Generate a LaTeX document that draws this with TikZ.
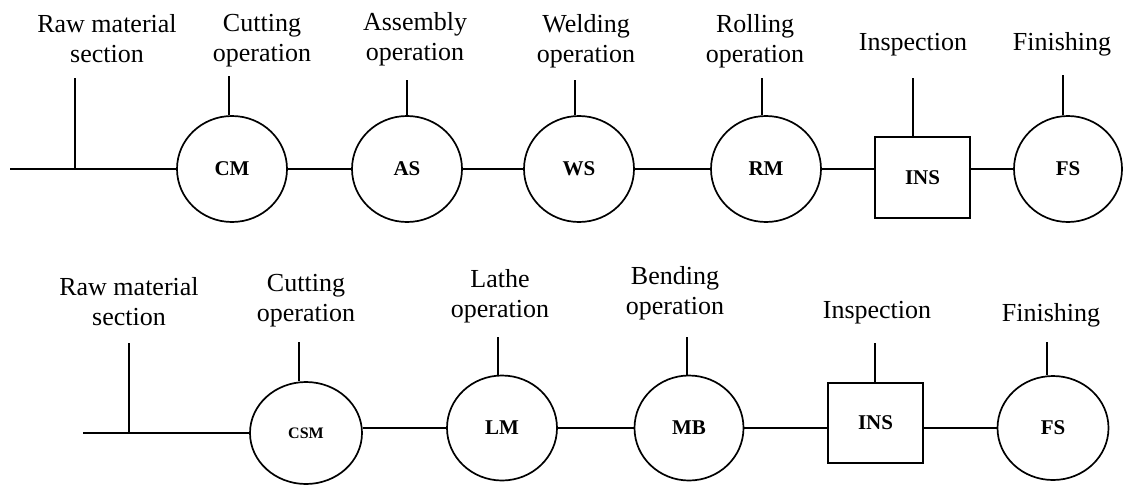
\documentclass[tikz,border=0pt]{standalone}
\usepackage{fontspec}
\setmainfont{Liberation Serif}
\usetikzlibrary{shapes.geometric}
\begin{document}
\begin{tikzpicture}[x=1pt,y=-1pt,
  station/.style={draw, ellipse, line width=1.7pt, inner sep=0pt,
    minimum width=110pt, minimum height=106pt,
    font=\bfseries\fontsize{21}{24}\selectfont},
  checkbox/.style={draw, rectangle, line width=1.7pt, inner sep=0pt,
    minimum width=95pt, minimum height=81pt,
    font=\bfseries\fontsize{21}{24}\selectfont},
  caption/.style={anchor=north, align=center, inner sep=0pt,
    font=\fontsize{26}{30}\selectfont},
  link/.style={line width=1.7pt}]

\useasboundingbox (0,0) rectangle (1123,485);

% ---------- first production line ----------
\node[station] (CM) at (232,169) {CM};
\node[station] (AS) at (407,169) {AS};
\node[station] (WS) at (579,169) {WS};
\node[station] (RM) at (766,169) {RM};
\node[checkbox] (INS) at (922.5,177.5) {INS};
\node[station, minimum width=108pt] (FS) at (1068,169) {FS};

\node[caption] (cRaw)  at (107,14)  {Raw material\\section};
\node[caption] (cCut)  at (262,14)  {Cutting\\operation};
\node[caption] (cAss)  at (415,12)  {Assembly\\operation};
\node[caption] (cWeld) at (586,14)  {Welding\\operation};
\node[caption] (cRoll) at (755,14)  {Rolling\\operation};
\node[caption] (cIns)  at (913,33)  {Inspection};
\node[caption] (cFin)  at (1062,32) {Finishing};

\coordinate (start) at (10,169);
\coordinate (rawtop) at (75,78);
\coordinate (fCM)  at (229,76);
\coordinate (fAS)  at (407,80);
\coordinate (fWS)  at (575,80);
\coordinate (fRM)  at (762,78);
\coordinate (fINS) at (913,78);
\coordinate (fFS)  at (1063,75);

\draw[link] (start) -- (CM.west);
\draw[link] (rawtop) -- (rawtop |- CM.west);
\draw[link] (CM) -- (AS);
\draw[link] (AS) -- (WS);
\draw[link] (WS) -- (RM);
\draw[link] (RM.east) -- (RM.east -| INS.west);
\draw[link] (FS.west -| INS.east) -- (FS.west);

\draw[link] (fCM)  -- (fCM  |- CM.north);
\draw[link] (fAS)  -- (fAS  |- AS.north);
\draw[link] (fWS)  -- (fWS  |- WS.north);
\draw[link] (fRM)  -- (fRM  |- RM.north);
\draw[link] (fINS) -- (fINS |- INS.north);
\draw[link] (fFS)  -- (fFS  |- FS.north);

% ---------- second production line ----------
\node[station, minimum width=112pt, minimum height=102pt,
      font=\bfseries\fontsize{16}{19}\selectfont] (CSM) at (306,433) {CSM};
\node[station, minimum height=105pt] (LM) at (502,428) {LM};
\node[station, minimum width=109pt, minimum height=105pt] (MB) at (689,428) {MB};
\node[checkbox, minimum height=80pt] (INSb) at (875.5,423) {INS};
\node[station, minimum width=111pt, minimum height=104pt] (FSb) at (1053,428) {FS};

\node[caption] (dRaw)  at (129,277)  {Raw material\\section};
\node[caption] (dCut)  at (306,274)  {Cutting\\operation};
\node[caption] (dLathe) at (500,269) {Lathe\\operation};
\node[caption] (dBend) at (675,266)  {Bending\\operation};
\node[caption] (dIns)  at (877,301)  {Inspection};
\node[caption] (dFin)  at (1051,303) {Finishing};

\coordinate (startb) at (83,433);
\coordinate (rawtopb) at (129,343);
\coordinate (fCSM)  at (299,342);
\coordinate (fLM)   at (498,337);
\coordinate (fMB)   at (687,337);
\coordinate (fINSb) at (875,343);
\coordinate (fFSb)  at (1047,342);

\draw[link] (startb) -- (CSM.west);
\draw[link] (rawtopb) -- (rawtopb |- CSM.west);
\draw[link] (LM.west -| CSM.east) -- (LM.west);
\draw[link] (LM) -- (MB);
\draw[link] (MB.east) -- (MB.east -| INSb.west);
\draw[link] (FSb.west -| INSb.east) -- (FSb.west);

\draw[link] (fCSM)  -- (fCSM  |- CSM.north);
\draw[link] (fLM)   -- (fLM   |- LM.north);
\draw[link] (fMB)   -- (fMB   |- MB.north);
\draw[link] (fINSb) -- (fINSb |- INSb.north);
\draw[link] (fFSb)  -- (fFSb  |- FSb.north);
\end{tikzpicture}
\end{document}
